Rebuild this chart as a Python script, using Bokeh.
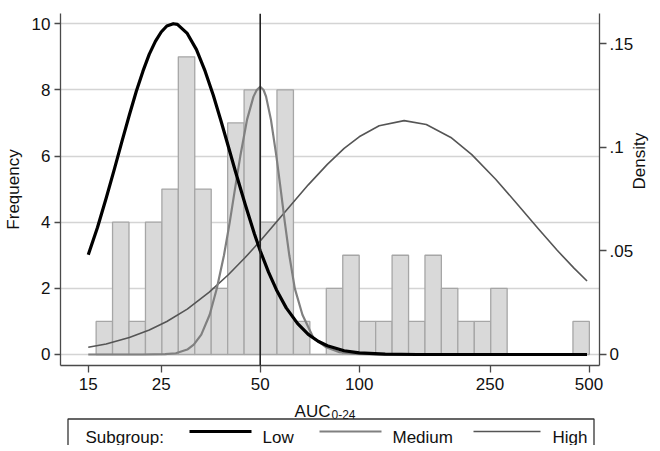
import math
from bokeh.plotting import figure
from bokeh.models import Range1d, LinearAxis, FixedTicker, Span
from bokeh.layouts import column
from bokeh.embed import file_html
from bokeh.resources import INLINE
from bokeh.core.properties import value

# ---------------- data ----------------
bin_edges = [15.85, 17.78, 19.95, 22.39, 25.12, 28.18, 31.62, 35.48, 39.81, 44.67,
             50.12, 56.23, 63.10, 70.79, 79.43, 89.13, 100.0, 112.2, 125.9, 141.3,
             158.5, 177.8, 199.5, 223.9, 251.2, 281.8, 316.2, 354.8, 398.1, 446.7, 501.2]
counts = [1, 4, 1, 4, 5, 9, 5, 2, 7, 8, 4, 8, 1, 0, 2, 3, 1, 1, 3, 1,
          3, 2, 1, 1, 2, 0, 0, 0, 0, 1]

low_x = [15, 16, 17, 18, 19, 20, 21, 22, 23, 24, 25, 26, 27.2, 28, 30, 32, 34, 36, 38, 40,
         42, 45, 48, 50, 53, 56, 60, 65, 70, 75, 80, 90, 100, 120, 150, 493]
low_d = [0.0481, 0.0613, 0.0754, 0.0894, 0.1030, 0.1156, 0.1271, 0.1368, 0.1450, 0.1512,
         0.1557, 0.1586, 0.1597, 0.1594, 0.1550, 0.1472, 0.1368, 0.1252, 0.1127, 0.1004,
         0.0886, 0.0725, 0.0583, 0.0501, 0.0398, 0.0313, 0.0225, 0.0149, 0.0097, 0.0064,
         0.0042, 0.0018, 0.0008, 0.0002, 0, 0]

med_x = [15, 22.0, 25.7, 27.7, 30.0, 31.4, 33.1, 35.1, 36.9, 38.8, 40.4, 41.9, 43.5, 45.6,
         47.7, 48.8, 50.0, 51.2, 52.1, 53.9, 56.0, 57.7, 59.4, 61.3, 63.7, 67.2, 72.6, 79.4,
         87.1, 96.8, 115, 493]
med_d = [0, 0, 0.0002, 0.0006, 0.0024, 0.0048, 0.0096, 0.0192, 0.0319, 0.0479, 0.0639,
         0.0798, 0.0958, 0.1134, 0.1245, 0.1277, 0.1293, 0.1277, 0.1245, 0.1134, 0.0958,
         0.0798, 0.0639, 0.0479, 0.0319, 0.0192, 0.0080, 0.0035, 0.0011, 0.0003, 0, 0]

high_x = [15, 17, 20, 23, 26, 30, 35, 40, 45, 50, 60, 70, 80, 90, 100, 115, 137, 160, 190,
          220, 260, 300, 350, 400, 450, 493]
high_d = [0.0035, 0.0051, 0.0082, 0.0118, 0.0159, 0.0219, 0.0301, 0.0385, 0.0468, 0.0548,
          0.0695, 0.0819, 0.0918, 0.0995, 0.1051, 0.1104, 0.1129, 0.1110, 0.1048, 0.0965,
          0.0846, 0.0733, 0.0608, 0.0503, 0.0417, 0.0355]

x_ticks = [15, 25, 50, 100, 250, 500]
freq_ticks = [0, 2, 4, 6, 8, 10]
dens_ticks = [0, 0.05, 0.1, 0.15]
dens_tick_labels = ["0", ".05", ".1", ".15"]
ref_value = 50
series_names = ["Low", "Medium", "High"]
series_colors = ["#000000", "#808080", "#555555"]
series_widths = [3.2, 2.2, 1.6]
legend_title = "Subgroup:"
x_label_main = "AUC"
x_label_sub = "0-24"

FONT = "Liberation Sans"
AX = "#4a4a4a"
TXT = "#111111"

# ---------------- main figure ----------------
freq_lo, freq_hi = -0.333, 10.31
scale = 0.015968
X_LO, X_HI = 12.35, 538.0
FRAME_W = 539

p = figure(x_axis_type="log", x_range=Range1d(X_LO, X_HI), y_range=Range1d(freq_lo, freq_hi),
           frame_width=FRAME_W, frame_height=352,
           min_border_left=53, min_border_right=52, min_border_top=13, min_border_bottom=33,
           toolbar_location=None, output_backend="svg")
p.extra_y_ranges = {"density": Range1d(freq_lo * scale, freq_hi * scale)}
p.outline_line_color = None
p.background_fill_color = "white"
p.border_fill_color = "white"

p.xgrid.visible = False
p.ygrid.grid_line_color = "#d4d4d4"
p.ygrid.grid_line_width = 1.5
p.ygrid.ticker = FixedTicker(ticks=freq_ticks)

# histogram
p.quad(left=bin_edges[:-1], right=bin_edges[1:], top=counts, bottom=0,
       fill_color="#d9d9d9", line_color="#a6a6a6", line_width=1.3)

# reference line
p.add_layout(Span(location=ref_value, dimension="height", line_color="#222222", line_width=1.6))

# density curves
p.line(high_x, high_d, y_range_name="density", line_color=series_colors[2],
       line_width=series_widths[2], line_join="round")
p.line(med_x, med_d, y_range_name="density", line_color=series_colors[1],
       line_width=series_widths[1], line_join="round")
p.line(low_x, low_d, y_range_name="density", line_color=series_colors[0],
       line_width=series_widths[0], line_join="round")


def style(ax):
    ax.axis_line_color = AX
    ax.axis_line_width = 1.3
    ax.major_tick_line_color = AX
    ax.major_tick_line_width = 1.3
    ax.major_tick_out = 7
    ax.major_tick_in = 0
    ax.minor_tick_out = 0
    ax.minor_tick_in = 0
    ax.major_label_text_font = FONT
    ax.major_label_text_font_size = "17px"
    ax.major_label_text_color = TXT
    ax.axis_label_text_font = FONT
    ax.axis_label_text_font_size = "17px"
    ax.axis_label_text_font_style = "normal"
    ax.axis_label_text_color = TXT


xa = p.xaxis[0]
style(xa)
xa.ticker = FixedTicker(ticks=x_ticks, minor_ticks=[])
xa.major_label_overrides = {t: str(t) for t in x_ticks}
xa.major_label_standoff = 5

ya = p.yaxis[0]
style(ya)
ya.ticker = FixedTicker(ticks=freq_ticks, minor_ticks=[])
ya.axis_label = "Frequency"
ya.major_label_standoff = 4
ya.axis_label_standoff = 6
ya.major_tick_out = 6

ra = LinearAxis(y_range_name="density", axis_label="Density")
style(ra)
ra.ticker = FixedTicker(ticks=dens_ticks, minor_ticks=[])
ra.major_label_overrides = {t: l for t, l in zip(dens_ticks, dens_tick_labels)}
ra.major_label_standoff = 3
ra.axis_label_standoff = 3
if "axis_label_orientation" in ra.properties():
    ra.axis_label_orientation = math.pi / 2
p.add_layout(ra, "right")

# ---------------- bottom strip: x label + legend ----------------
# shares the main x range, so horizontal positions follow the main frame
STRIP_TOP, STRIP_BOT = 404, 451
L0, L1 = math.log10(X_LO), math.log10(X_HI)


def px(frac_px):
    # horizontal pixel offset from the frame's left edge -> value on the shared log axis
    return 10 ** (L0 + (L1 - L0) * frac_px / FRAME_W)


p2 = figure(x_axis_type="log", x_range=p.x_range, y_range=Range1d(STRIP_BOT, STRIP_TOP),
            frame_width=FRAME_W, frame_height=STRIP_BOT - STRIP_TOP,
            min_border_left=53, min_border_right=52, min_border_top=0, min_border_bottom=0,
            toolbar_location=None, output_backend="svg",
            x_axis_location=None, y_axis_location=None)
p2.outline_line_color = None
p2.grid.visible = False

F0 = 61  # the main frame's left edge in the reference picture

# x-axis label with subscript
p2.text(x=[px(331 - F0)], y=[417], text=[x_label_main], text_align="right", text_baseline="alphabetic",
        text_font=value(FONT), text_font_size="17px", text_color=TXT)
p2.text(x=[px(332 - F0)], y=[420], text=[x_label_sub], text_align="left", text_baseline="alphabetic",
        text_font=value(FONT), text_font_size="12px", text_color=TXT)

# legend box (its bottom edge lies below the picture, as in the reference)
bx0, bx1 = px(68.5 - F0), px(594.5 - F0)
p2.line([bx0, bx0, bx1, bx1], [470, 424.5, 424.5, 470], line_color="#333333", line_width=1.3)
p2.text(x=[px(86 - F0)], y=[443], text=[legend_title], text_font=value(FONT), text_font_size="17px",
        text_baseline="alphabetic", text_color=TXT)
p2.text(x=[px(263 - F0), px(393 - F0), px(553 - F0)], y=[443, 443, 443], text=series_names,
        text_font=value(FONT), text_font_size="17px", text_baseline="alphabetic", text_color=TXT)
p2.segment(x0=[px(190 - F0), px(320 - F0), px(474 - F0)], y0=[437, 437, 437],
           x1=[px(252 - F0), px(382 - F0), px(541 - F0)], y1=[437, 437, 437],
           line_color=series_colors, line_width=series_widths)

layout = column(p, p2, spacing=0)
open("out.html", "w").write(file_html(layout, INLINE))
